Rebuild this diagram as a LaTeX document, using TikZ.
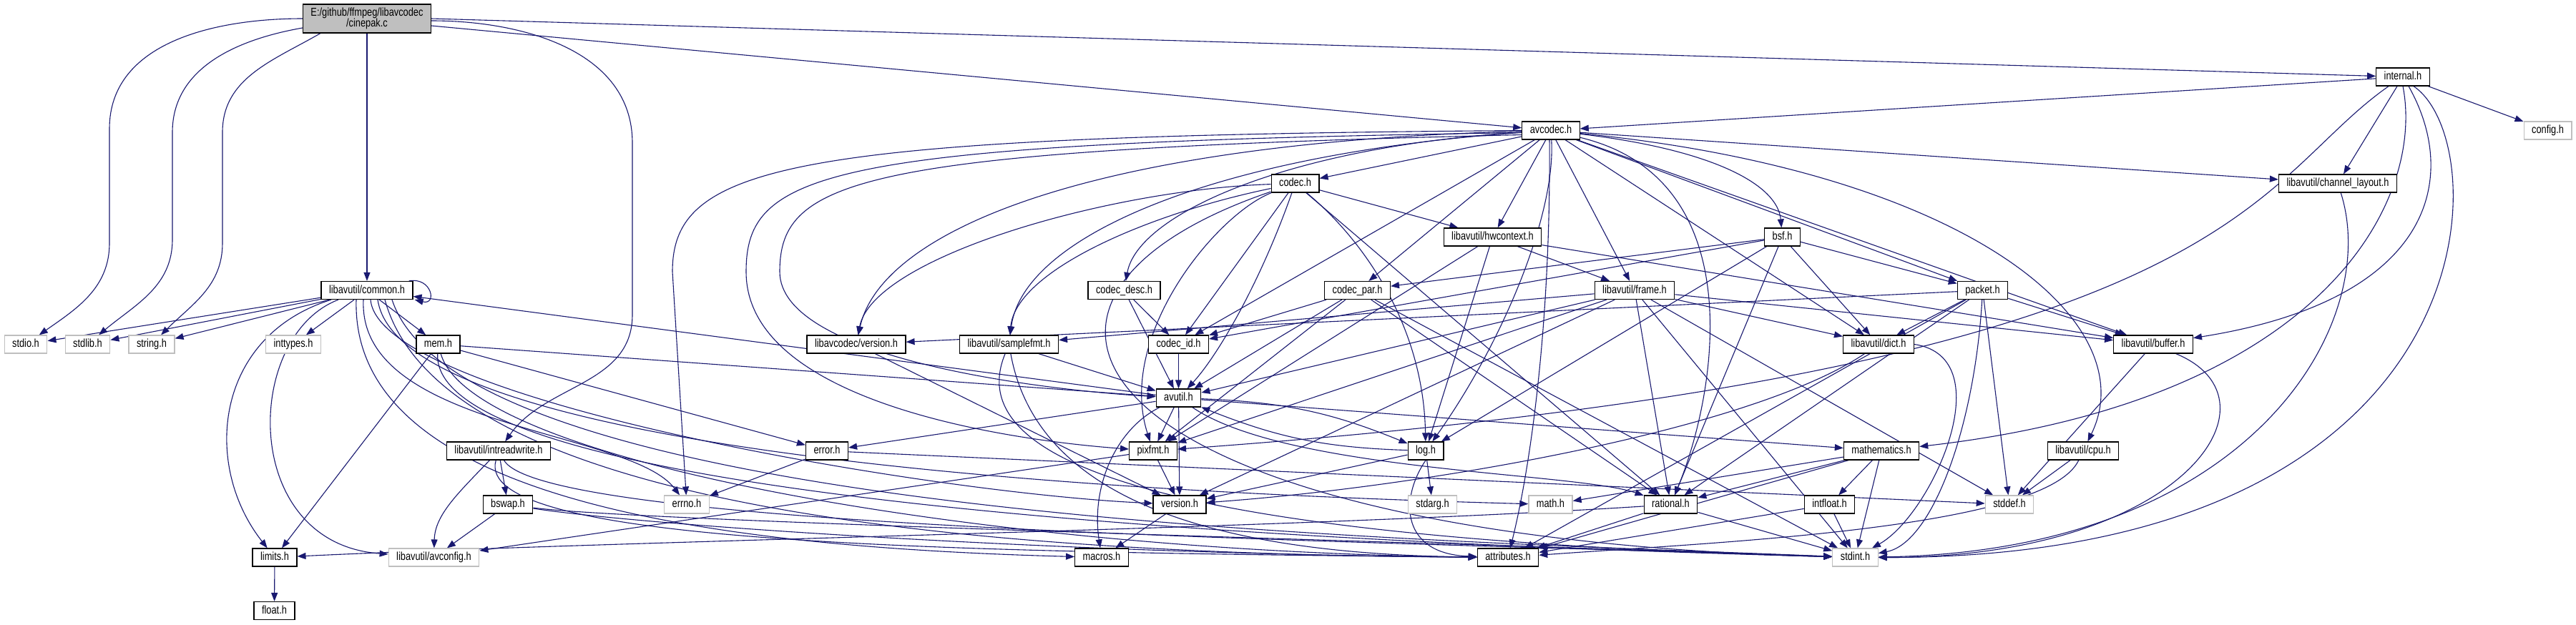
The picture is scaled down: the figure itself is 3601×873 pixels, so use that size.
\documentclass[tikz,border=0pt]{standalone}
\usepackage{fontspec}
\newfontfamily\graphfont{Liberation Sans}[FakeStretch=0.8]
\usepackage{tikz}
\usetikzlibrary{arrows.meta,backgrounds}
\definecolor{depblue}{HTML}{191970}
\definecolor{sysgray}{HTML}{BFBFBF}
\definecolor{srcgray}{HTML}{BFBFBF}
\newcommand{\filefont}{\graphfont\fontsize{16pt}{15pt}\selectfont}
\tikzset{
  hfile/.style={draw=black,line width=1.2pt,fill=white,font=\filefont,inner xsep=11pt,inner ysep=0pt,minimum height=25pt,text height=11.5pt,text depth=3pt},
  sysfile/.style={hfile,draw=sysgray},
  srcfile/.style={draw=black,line width=1.2pt,fill=srcgray,font=\filefont,align=center,inner xsep=11pt,inner ysep=0pt,minimum height=40pt},
  incl/.style={-{Triangle[length=12pt,width=9pt]},draw=depblue,line width=1.1pt},
}

\begin{document}
\begin{tikzpicture}[x=1pt,y=1pt]
    \useasboundingbox (0,0) rectangle (3601,-873);
    \node[srcfile] (cinepak) at (513,-26) {E:/github/ffmpeg/libavcodec\\/cinepak.c};
    \node[hfile] (internal) at (3359,-107.5) {internal.h};
    \node[hfile] (avcodec) at (2168,-182.5) {avcodec.h};
    \node[sysfile] (config) at (3561.5,-182.5) {config.h};
    \node[hfile] (codec) at (1810.5,-256.5) {codec.h};
    \node[hfile] (chlayout) at (3268,-256.5) {libavutil/channel\_layout.h};
    \node[hfile] (hwcontext) at (2086.5,-331.5) {libavutil/hwcontext.h};
    \node[hfile] (bsf) at (2491.5,-331.5) {bsf.h};
    \node[hfile] (common) at (513,-406) {libavutil/common.h};
    \node[hfile] (codecdesc) at (1571.5,-406) {codec\_desc.h};
    \node[hfile] (codecpar) at (1897.5,-406) {codec\_par.h};
    \node[hfile] (frame) at (2285,-406) {libavutil/frame.h};
    \node[hfile] (packet) at (2771.5,-406) {packet.h};
    \node[sysfile] (stdioh) at (36,-481.5) {stdio.h};
    \node[sysfile] (stdlibh) at (122.5,-481.5) {stdlib.h};
    \node[sysfile] (stringh) at (212,-481.5) {string.h};
    \node[sysfile] (inttypes) at (410,-481.5) {inttypes.h};
    \node[hfile] (mem) at (612.5,-481.5) {mem.h};
    \node[hfile] (lcversion) at (1197,-481.5) {libavcodec/version.h};
    \node[hfile] (samplefmt) at (1410.5,-481.5) {libavutil/samplefmt.h};
    \node[hfile] (codecid) at (1647.5,-481.5) {codec\_id.h};
    \node[hfile] (dict) at (2626,-481.5) {libavutil/dict.h};
    \node[hfile] (buffer) at (3010,-481.5) {libavutil/buffer.h};
    \node[hfile] (avutil) at (1647.5,-556.5) {avutil.h};
    \node[hfile] (intrw) at (697,-630.5) {libavutil/intreadwrite.h};
    \node[hfile] (error) at (1156,-630.5) {error.h};
    \node[hfile] (pixfmt) at (1612,-630.5) {pixfmt.h};
    \node[hfile] (log) at (1993,-630.5) {log.h};
    \node[hfile] (mathematics) at (2630,-630.5) {mathematics.h};
    \node[hfile] (cpu) at (2912,-630.5) {libavutil/cpu.h};
    \node[hfile] (bswap) at (710,-705.5) {bswap.h};
    \node[sysfile] (errno) at (960,-705.5) {errno.h};
    \node[hfile] (version) at (1649,-705.5) {version.h};
    \node[sysfile] (stdarg) at (2002.5,-705.5) {stdarg.h};
    \node[sysfile] (math) at (2167.5,-705.5) {math.h};
    \node[hfile] (rational) at (2335.5,-705.5) {rational.h};
    \node[hfile] (intfloat) at (2557.5,-705.5) {intfloat.h};
    \node[sysfile] (stddef) at (2809,-705.5) {stddef.h};
    \node[hfile] (limits) at (384,-779.5) {limits.h};
    \node[sysfile] (avconfig) at (606.5,-779.5) {libavutil/avconfig.h};
    \node[hfile] (macros) at (1540,-779.5) {macros.h};
    \node[hfile] (attributes) at (2108,-779.5) {attributes.h};
    \node[sysfile] (stdint) at (2593.5,-779.5) {stdint.h};
    \node[hfile] (floath) at (383.5,-854) {float.h};

    \begin{scope}[on background layer]
    \fill[white] (0,0) rectangle (3601,-873);
    % cinepak.c
    \draw[incl] (cinepak) -- (common); \draw[incl] (cinepak.east) -- (internal); \draw[incl] ([yshift=-10pt]cinepak.east) -- (avcodec);
    \draw[incl] (cinepak.west) to[out=180,in=90] (153,-180) -- (153,-340) to[out=-90,in=35] (stdioh);
    \draw[incl] ([yshift=-13pt]cinepak.west) to[out=190,in=90] (241,-185) -- (241,-335) to[out=-90,in=40] (stdlibh);
    \draw[incl] ([xshift=25pt]cinepak.south west) to[out=210,in=90] (311,-185) -- (311,-340) to[out=-90,in=45] (stringh);
    \draw[incl] ([yshift=-3pt]cinepak.east) to[out=0,in=90] (884,-200) -- (884,-440) to[out=-90,in=55] (intrw);
    % common.h
    \draw[incl] (common) -- (stdioh); \draw[incl] (common) -- (stdlibh); \draw[incl] (common) -- (stringh);
    \draw[incl] (common) -- (inttypes); \draw[incl] (common) -- (mem);
    \draw[incl] ([xshift=-6pt]common.north east) .. controls +(32,6) and +(32,-8) .. ([xshift=2pt]common.south east);
    \draw[incl] ([xshift=-50pt]common.south) .. controls (300,-470) and (282,-650) .. (limits);
    \draw[incl] ([xshift=-40pt]common.south) .. controls (340,-470) and (335,-760) .. (avconfig);
    \draw[incl] ([xshift=-5pt]common.south) .. controls (500,-600) and (880,-600) .. (errno);
    \draw[incl] ([xshift=5pt]common.south) .. controls (530,-560) and (1300,-690) .. (version);
    \draw[incl] ([xshift=15pt]common.south) .. controls (560,-640) and (1600,-690) .. (math);
    \draw[incl] ([xshift=-15pt]common.south) .. controls (490,-700) and (1000,-765) .. (macros);
    \draw[incl] ([xshift=25pt]common.south) .. controls (620,-720) and (1400,-775) .. (attributes);
    \draw[incl] ([xshift=35pt]common.south) .. controls (650,-730) and (2000,-755) .. (stdint);
    % mem.h, intreadwrite.h, bswap.h, limits.h
    \draw[incl] (mem) -- (limits); \draw[incl] (mem) -- (avutil); \draw[incl] (mem) -- (error);
    \draw[incl] (mem) .. controls (600,-700) and (1800,-758) .. (stdint);
    \draw[incl] (mem) .. controls (660,-650) and (1400,-772) .. (attributes);
    \draw[incl] (intrw) -- (bswap);
    \draw[incl] (intrw) .. controls (640,-690) and (608,-720) .. (avconfig);
    \draw[incl] (intrw) .. controls (660,-760) and (1300,-772) .. (attributes);
    \draw[incl] (intrw) .. controls (760,-740) and (1900,-756) .. (stdint);
    \draw[incl] (bswap) -- (avconfig);
    \draw[incl] (bswap) .. controls (900,-735) and (1500,-775) .. (attributes);
    \draw[incl] (bswap) .. controls (900,-730) and (2000,-758) .. (stdint);
    \draw[incl] (limits) -- (floath);
    % avcodec.h
    \draw[incl] (avcodec.west) .. controls (1100,-190) and (940,-230) .. (940,-380) -- (errno);
    \draw[incl] ([yshift=-3pt]avcodec.west) .. controls (1150,-200) and (1043,-240) .. (1043,-380) .. controls (1043,-560) and (1400,-615) .. (pixfmt);
    \draw[incl] ([yshift=-6pt]avcodec.west) .. controls (1200,-210) and (1090,-250) .. (1090,-380) .. controls (1090,-500) and (1450,-545) .. (avutil);
    \draw[incl] (avcodec) .. controls (1500,-200) and (1230,-330) .. (lcversion);
    \draw[incl] (avcodec) .. controls (1700,-215) and (1430,-330) .. (samplefmt);
    \draw[incl] (avcodec) .. controls (1800,-205) and (1590,-300) .. (codecdesc);
    \draw[incl] ([xshift=-2pt]avcodec.south) .. controls (2168,-450) and (2140,-650) .. (attributes);
    \draw[incl] (avcodec) .. controls (2175,-300) and (2100,-480) .. (log);
    \draw[incl] (avcodec) .. controls (2750,-240) and (3000,-450) .. (cpu);
    \draw[incl] (avcodec) .. controls (2400,-210) and (2485,-260) .. (bsf);
    \draw[incl] (avcodec) .. controls (2450,-250) and (2400,-550) .. (rational);
    \draw[incl] (avcodec) -- (codec); \draw[incl] (avcodec) -- (hwcontext); \draw[incl] (avcodec) -- (codecpar);
    \draw[incl] (avcodec) -- (frame); \draw[incl] (avcodec) -- (chlayout); \draw[incl] (avcodec) -- (dict);
    \draw[incl] (avcodec) -- (buffer); \draw[incl] (avcodec) -- (packet); \draw[incl] (avcodec) -- (codecid);
    % internal.h
    \draw[incl] (internal) -- (avcodec); \draw[incl] (internal) -- (chlayout); \draw[incl] (internal) -- (config);
    \draw[incl] ([xshift=15pt]internal.south) .. controls (3492,-200) and (3492,-780) .. (stdint);
    \draw[incl] ([xshift=8pt]internal.south) .. controls (3440,-250) and (3400,-420) .. (buffer);
    \draw[incl] (internal.south) .. controls (3390,-280) and (3250,-560) .. (mathematics);
    \draw[incl] ([xshift=-20pt]internal.south) .. controls (3140,-260) and (3140,-520) .. (pixfmt);
    % codec.h, codec_desc.h, codec_id.h, codec_par.h
    \draw[incl] (codec) .. controls (1550,-265) and (1220,-360) .. (lcversion);
    \draw[incl] (codec) .. controls (1600,-300) and (1420,-380) .. (samplefmt);
    \draw[incl] (codec) .. controls (1700,-300) and (1560,-470) .. (pixfmt);
    \draw[incl] (codec) .. controls (1900,-330) and (1990,-450) .. (log);
    \draw[incl] (codec) .. controls (1760,-400) and (1700,-500) .. (avutil);
    \draw[incl] (codec) .. controls (1330,-420) and (1500,-750) .. (stdint);
    \draw[incl] (codec) -- (hwcontext); \draw[incl] (codec) -- (codecid); \draw[incl] (codec) -- (rational);
    \draw[incl] (codecdesc) -- (avutil); \draw[incl] (codecdesc) -- (codecid); \draw[incl] (codecid) -- (avutil);
    \draw[incl] (codecpar) -- (avutil); \draw[incl] (codecpar) -- (rational); \draw[incl] (codecpar) -- (pixfmt);
    \draw[incl] (codecpar) -- (codecid); \draw[incl] (codecpar) -- (stdint);
    % bsf.h, packet.h
    \draw[incl] (bsf) -- (dict); \draw[incl] (bsf) -- (log); \draw[incl] (bsf) -- (rational);
    \draw[incl] (bsf) -- (codecid); \draw[incl] (bsf) -- (codecpar); \draw[incl] (bsf) -- (packet);
    \draw[incl] (packet) -- (lcversion); \draw[incl] (packet) -- (dict); \draw[incl] (packet) -- (buffer);
    \draw[incl] (packet) -- (rational); \draw[incl] (packet) -- (stddef); \draw[incl] (packet) -- (attributes);
    \draw[incl] (packet) .. controls (2760,-600) and (2700,-760) .. (stdint);
    % hwcontext.h, frame.h, samplefmt.h
    \draw[incl] (hwcontext) -- (frame); \draw[incl] (hwcontext) -- (log); \draw[incl] (hwcontext) -- (pixfmt); \draw[incl] (hwcontext) -- (buffer);
    \draw[incl] (frame) -- (samplefmt); \draw[incl] (frame) -- (avutil); \draw[incl] (frame) -- (pixfmt);
    \draw[incl] (frame) -- (rational); \draw[incl] (frame) -- (version); \draw[incl] (frame) -- (dict);
    \draw[incl] (frame) -- (buffer); \draw[incl] (frame) -- (stddef); \draw[incl] (frame) -- (stdint);
    \draw[incl] (samplefmt) -- (avutil);
    \draw[incl] (samplefmt) .. controls (1450,-700) and (1700,-775) .. (attributes);
    \draw[incl] (samplefmt) .. controls (1320,-700) and (1900,-760) .. (stdint);
    \draw[incl] (lcversion) -- (version);
    % avutil.h, log.h
    \draw[incl] (avutil) -- (common); \draw[incl] (avutil) -- (error); \draw[incl] (avutil) -- (version);
    \draw[incl] (avutil) -- (mathematics); \draw[incl] (avutil) -- (pixfmt);
    \draw[incl] (avutil) .. controls (1800,-660) and (2200,-660) .. (rational);
    \draw[incl] (avutil) .. controls (1560,-600) and (1525,-680) .. (macros);
    \draw[incl] (avutil) to[bend left=10] (log); \draw[incl] (log) to[bend left=10] (avutil);
    \draw[incl] (log) -- (stdarg); \draw[incl] (log) -- (version);
    \draw[incl] (log.south) .. controls (1955,-700) and (1960,-775) .. (attributes);
    % remaining headers
    \draw[incl] (error) -- (errno); \draw[incl] (error) -- (stddef);
    \draw[incl] (pixfmt) -- (avconfig); \draw[incl] (pixfmt) -- (version); \draw[incl] (version) -- (macros);
    \draw[incl] (rational) -- (stdint); \draw[incl] (rational) -- (attributes);
    \draw[incl] (rational) .. controls (1800,-740) and (900,-755) .. (limits);
    \draw[incl] (mathematics) -- (stdint); \draw[incl] (mathematics) -- (math); \draw[incl] (mathematics) -- (attributes);
    \draw[incl] (mathematics) -- (rational); \draw[incl] (mathematics) -- (intfloat);
    \draw[incl] (intfloat) -- (stdint); \draw[incl] (intfloat) -- (attributes);
    \draw[incl] (dict.east) .. controls (2800,-500) and (2700,-720) .. (stdint);
    \draw[incl] (dict) .. controls (2450,-600) and (2000,-680) .. (version);
    \draw[incl] (buffer) -- (stddef);
    \draw[incl] (buffer) .. controls (3200,-560) and (3050,-780) .. (stdint);
    \draw[incl] (chlayout) .. controls (3330,-450) and (3150,-770) .. (stdint);
    \draw[incl] (cpu) -- (stddef);
    \draw[incl] (cpu) .. controls (2860,-740) and (2400,-758) .. (attributes);
    \end{scope}
\end{tikzpicture}
\end{document}
